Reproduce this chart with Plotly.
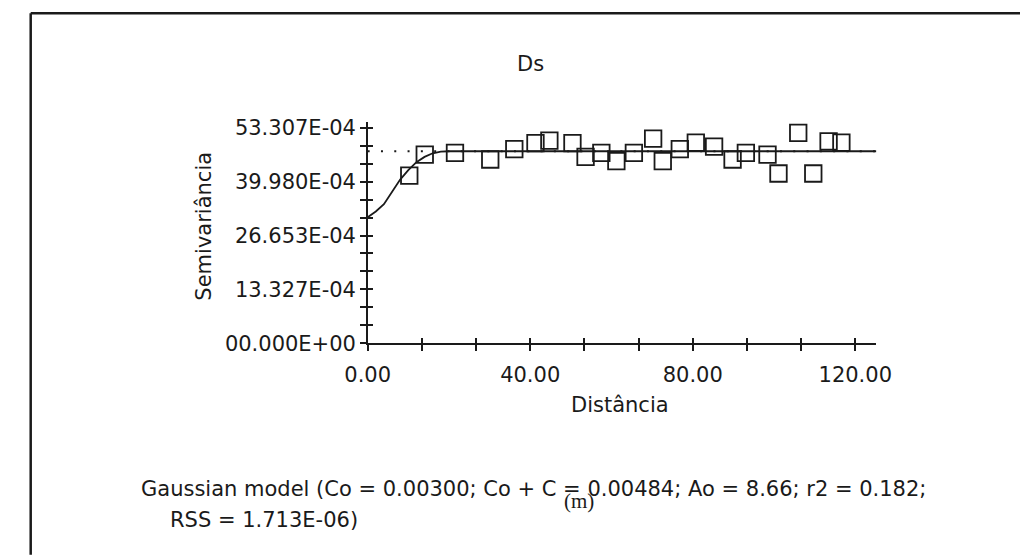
import plotly.graph_objects as go

# ---- data ----
lag_distance = [10.24, 14.05, 21.49, 30.17, 36.09, 41.30, 44.72, 50.40, 53.63, 57.51,
                61.21, 65.52, 70.26, 72.63, 76.82, 80.76, 85.26, 89.81, 93.08, 98.41,
                101.11, 105.97, 109.67, 113.44, 116.59]
semivariance = [0.004149, 0.004666, 0.004707, 0.004546, 0.004802, 0.004953, 0.005011,
                0.004953, 0.004611, 0.004707, 0.004503, 0.004707, 0.005061, 0.004503,
                0.004802, 0.004963, 0.004862, 0.004546, 0.004707, 0.004664, 0.004199,
                0.005202, 0.004199, 0.004994, 0.004963]

model_h = [0, 2, 4, 6, 8, 10, 12, 14, 16, 18, 20, 125.2]
model_gamma = [0.00312, 0.00326, 0.00344, 0.00374, 0.00405, 0.00428, 0.00448,
               0.00461, 0.00470, 0.00474, 0.00475, 0.00475]

sill_h = [0, 125.2]
sill_gamma = [0.00475, 0.00475]

x_tickvals = [0, 40, 80, 120]
x_ticktext = ["0.00", "40.00", "80.00", "120.00"]
y_tickvals = [0, 0.0013327, 0.0026653, 0.003998, 0.0053307]
y_ticktext = ["00.000E+00", "13.327E-04", "26.653E-04", "39.980E-04", "53.307E-04"]

title_text = "Ds"
x_title = "Distância"
y_title = "Semivariância"
note_line1 = "Gaussian model (Co = 0.00300; Co + C = 0.00484; Ao = 8.66; r2 = 0.182;"
note_line2 = "RSS = 1.713E-06)"
unit_text = "(m)"

# ---- geometry / style ----
W, H = 1020, 556
FONT = "DejaVu Sans"
INK = "#1a1a1a"
FS = 21
x_range = [0, 125.2]
y_range = [0, 0.00547]
x_dom = [358 / W, 886.4 / W]
y_dom = [(H - 348.6) / H, (H - 120) / H]

x_minor = [i * 40 / 3 for i in range(10)]
y_minor = [i * 0.0053307 / 12 for i in range(13)]

fig = go.Figure()
fig.add_trace(go.Scatter(x=sill_h, y=sill_gamma, mode="lines", xaxis="x2", yaxis="y",
                         line=dict(color=INK, width=2, dash="2px,11.3px"),
                         hoverinfo="skip", showlegend=False))
fig.add_trace(go.Scatter(x=model_h, y=model_gamma, mode="lines", xaxis="x", yaxis="y2",
                         line=dict(color=INK, width=1.8),
                         hoverinfo="skip", showlegend=False))
fig.add_trace(go.Scatter(x=lag_distance, y=semivariance, mode="markers",
                         marker=dict(symbol="square-open", size=16.5, color=INK,
                                     line=dict(width=1.8, color=INK)),
                         cliponaxis=False, showlegend=False))

tick_common = dict(ticklen=5.5, tickwidth=1.6, tickcolor=INK)

fig.update_layout(
    width=W, height=H,
    margin=dict(l=0, r=0, t=0, b=0),
    paper_bgcolor="white", plot_bgcolor="white",
    font=dict(family=FONT, size=FS, color=INK),
    xaxis=dict(domain=x_dom, range=x_range, anchor="y", showgrid=False, zeroline=False,
               showline=True, linewidth=2, linecolor=INK, ticks="outside",
               tickvals=x_tickvals, ticktext=x_ticktext, ticklabelstandoff=6,
               tickfont=dict(family=FONT, size=FS, color=INK),
               minor=dict(tickvals=x_minor, ticks="outside", **tick_common),
               **tick_common),
    xaxis2=dict(domain=x_dom, range=x_range, anchor="y", overlaying="x", side="bottom",
                showgrid=False, zeroline=False, showline=False, ticks="inside",
                tickvals=x_tickvals, showticklabels=False,
                minor=dict(tickvals=x_minor, ticks="inside", **tick_common),
                **tick_common),
    yaxis=dict(domain=y_dom, range=y_range, anchor="x", showgrid=False, zeroline=False,
               showline=True, linewidth=2, linecolor=INK, ticks="outside",
               tickvals=y_tickvals, ticktext=y_ticktext,
               tickfont=dict(family=FONT, size=FS, color=INK),
               minor=dict(tickvals=y_minor, ticks="outside", **tick_common),
               **tick_common),
    yaxis2=dict(domain=y_dom, range=y_range, anchor="x", overlaying="y", side="left",
                showgrid=False, zeroline=False, showline=False, ticks="inside",
                tickvals=y_tickvals, showticklabels=False,
                minor=dict(tickvals=y_minor, ticks="inside", **tick_common),
                **tick_common),
)

def px(x):
    return x / W

def py(y):
    return 1 - y / H

annotations = [
    dict(text=title_text, x=px(527), y=py(60), xanchor="center", yanchor="middle"),
    dict(text=y_title, x=px(188), y=py(227), xanchor="center", yanchor="middle", textangle=-90),
    dict(text=x_title, x=px(620), y=py(412), xanchor="center", yanchor="middle"),
    dict(text=note_line1, x=px(121), y=py(499), xanchor="left", yanchor="middle"),
    dict(text=note_line2, x=px(151), y=py(531), xanchor="left", yanchor="middle"),
    dict(text=unit_text, x=px(577), y=py(512), xanchor="center", yanchor="middle",
         font=dict(family="Liberation Serif", size=21, color=INK)),
]
for a in annotations:
    a.update(xref="paper", yref="paper", showarrow=False)
    a.setdefault("font", dict(family=FONT, size=FS, color=INK))
fig.update_layout(annotations=annotations)

# frame (top and left edges)
fig.add_shape(type="line", xref="paper", yref="paper", x0=px(8), x1=1.02, y0=py(7.5), y1=py(7.5),
              line=dict(color=INK, width=2.5))
fig.add_shape(type="line", xref="paper", yref="paper", x0=px(8), x1=px(8), y0=py(7.5), y1=-0.02,
              line=dict(color=INK, width=2.5))

fig.write_html("out.html")
